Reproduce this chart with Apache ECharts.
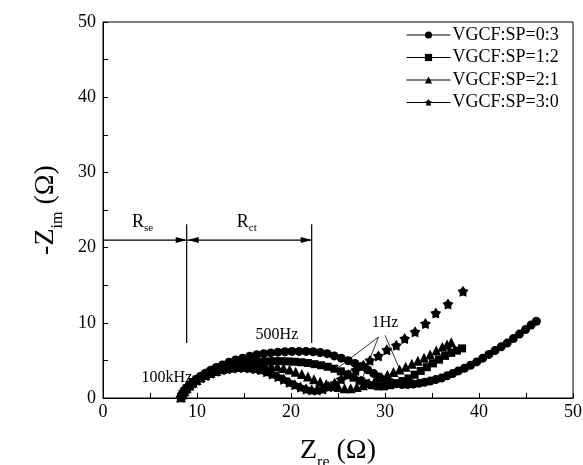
<!DOCTYPE html>
<html>
<head>
<meta charset="utf-8">
<script src="https://cdn.jsdelivr.net/npm/echarts@6/dist/echarts.min.js"></script>
<style>html,body{margin:0;padding:0;background:#fff}#c{width:583px;height:465px}</style>
</head>
<body>
<div id="c"></div>
<script>
// ---- data ----
const seriesNames = ['VGCF:SP=0:3', 'VGCF:SP=1:2', 'VGCF:SP=2:1', 'VGCF:SP=3:0'];
const xTicks = [0, 10, 20, 30, 40, 50];
const yTicks = [0, 10, 20, 30, 40, 50];

const zre03 = [8.3, 8.45, 8.65, 8.9, 9.2, 9.55, 9.95, 10.4, 10.9, 11.45, 12.05, 12.7, 13.4, 14.1, 14.85, 15.6, 16.35, 17.1, 17.85, 18.6, 19.35, 20.1, 20.85, 21.6, 22.35, 23.1, 23.85, 24.6, 25.35, 26.1, 26.8, 27.5, 28.15, 28.8, 29.4, 30.0, 30.6, 31.2, 31.8, 32.4, 33.0, 33.6, 34.2, 34.8, 35.4, 36.0, 36.6, 37.2, 37.8, 38.45, 39.1, 39.75, 40.4, 41.05, 41.7, 42.35, 43.0, 43.65, 44.3, 44.95, 45.55, 46.1];
const zim03 = [0.1, 0.5, 0.9, 1.3, 1.7, 2.1, 2.5, 2.9, 3.3, 3.7, 4.05, 4.4, 4.75, 5.05, 5.3, 5.55, 5.75, 5.9, 6.0, 6.1, 6.15, 6.2, 6.2, 6.2, 6.15, 6.05, 5.9, 5.6, 5.3, 4.95, 4.6, 4.2, 3.75, 3.25, 2.8, 2.4, 2.1, 1.9, 1.8, 1.8, 1.85, 1.95, 2.1, 2.25, 2.45, 2.65, 2.95, 3.25, 3.6, 3.95, 4.35, 4.8, 5.3, 5.8, 6.3, 6.8, 7.3, 7.9, 8.5, 9.1, 9.7, 10.2];

const zre12 = [8.3, 8.45, 8.65, 8.9, 9.2, 9.55, 9.95, 10.4, 10.9, 11.45, 12.05, 12.7, 13.4, 14.1, 14.8, 15.5, 16.2, 16.9, 17.6, 18.3, 19.0, 19.7, 20.4, 21.1, 21.8, 22.5, 23.2, 23.9, 24.6, 25.3, 26.0, 26.65, 27.3, 27.95, 28.6, 29.25, 29.9, 30.55, 31.2, 31.85, 32.5, 33.15, 33.8, 34.45, 35.1, 35.75, 36.4, 37.05, 37.65, 38.2];
const zim12 = [0.1, 0.5, 0.9, 1.3, 1.7, 2.1, 2.45, 2.8, 3.15, 3.45, 3.75, 4.0, 4.2, 4.4, 4.55, 4.65, 4.75, 4.82, 4.87, 4.9, 4.9, 4.87, 4.82, 4.75, 4.65, 4.5, 4.35, 4.15, 3.9, 3.55, 3.15, 2.7, 2.3, 1.95, 1.7, 1.55, 1.55, 1.7, 1.95, 2.25, 2.6, 3.1, 3.6, 4.1, 4.6, 5.1, 5.6, 6.0, 6.3, 6.6];

const zre21 = [8.3, 8.45, 8.65, 8.9, 9.2, 9.55, 9.95, 10.4, 10.9, 11.45, 12.05, 12.7, 13.35, 14.0, 14.65, 15.3, 15.95, 16.6, 17.25, 17.9, 18.55, 19.2, 19.85, 20.5, 21.15, 21.8, 22.45, 23.1, 23.75, 24.4, 25.05, 25.7, 26.35, 27.0, 27.65, 28.3, 28.95, 29.6, 30.25, 30.9, 31.55, 32.2, 32.85, 33.5, 34.15, 34.8, 35.45, 36.1, 36.6, 37.05];
const zim21 = [0.1, 0.5, 0.9, 1.3, 1.7, 2.05, 2.4, 2.75, 3.05, 3.35, 3.6, 3.85, 4.05, 4.2, 4.3, 4.38, 4.42, 4.42, 4.38, 4.3, 4.18, 4.0, 3.8, 3.5, 3.2, 2.85, 2.5, 2.15, 1.85, 1.6, 1.45, 1.3, 1.3, 1.45, 1.7, 2.0, 2.35, 2.75, 3.1, 3.45, 3.8, 4.15, 4.55, 4.95, 5.35, 5.8, 6.3, 6.8, 7.1, 7.4];

const zre30 = [8.3, 8.45, 8.65, 8.9, 9.2, 9.55, 9.95, 10.4, 10.9, 11.45, 12.0, 12.6, 13.2, 13.8, 14.4, 15.0, 15.6, 16.2, 16.8, 17.4, 18.0, 18.6, 19.2, 19.8, 20.4, 21.0, 21.6, 22.2, 22.8, 23.4, 24.0, 24.65, 25.35, 26.1, 26.9, 27.7, 28.4, 29.3, 30.2, 31.2, 32.1, 33.2, 34.3, 35.4, 36.7, 38.3];
const zim30 = [0.1, 0.5, 0.9, 1.3, 1.65, 2.0, 2.35, 2.7, 3.0, 3.3, 3.55, 3.75, 3.9, 4.0, 4.05, 4.05, 4.0, 3.9, 3.75, 3.5, 3.2, 2.85, 2.5, 2.1, 1.75, 1.45, 1.2, 1.05, 1.05, 1.2, 1.5, 1.95, 2.5, 3.1, 3.7, 4.35, 5.0, 5.6, 6.4, 7.0, 7.9, 8.8, 9.9, 11.3, 12.5, 14.2];

// annotations (data coordinates)
const rseX = 8.9, rctX = 22.2, arrowY = 21.0, vLineBottom = 7.3, vLineTop = 23.1;
const freqLabels = [
  { text: '100kHz', x: 6.8, y: 2.65 },
  { text: '500Hz', x: 18.5, y: 8.35 },
  { text: '1Hz', x: 30.0, y: 9.95 }
];
const oneHzLines = [
  { from: [29.3, 8.1], to: [24.4, 3.45], arrow: false },
  { from: [29.3, 8.1], to: [27.3, 1.7], arrow: true },
  { from: [30.0, 8.35], to: [31.6, 3.7], arrow: false }
];

const starPath = 'path://M50,0L67.6,25.7L97.6,34.5L78.5,59.3L79.4,90.5L50,80L20.6,90.5L21.5,59.3L2.4,34.5L32.4,25.7Z';
const symbols = ['circle', 'rect', 'triangle', starPath];
const symbolSizes = [9, 8, 10, 11];
const zs = [6, 5, 4, 3];
const xs = [zre03, zre12, zre21, zre30];
const ys = [zim03, zim12, zim21, zim30];

const FONT = '"Liberation Serif", "Times New Roman", serif';

const chart = echarts.init(document.getElementById('c'), null, { renderer: 'canvas' });

const series = seriesNames.map((name, i) => ({
  name: name,
  type: 'line',
  data: xs[i].map((x, k) => [x, ys[i][k]]),
  symbol: symbols[i],
  symbolSize: symbolSizes[i],
  showAllSymbol: true,
  lineStyle: { opacity: 0, width: 0 },
  itemStyle: { color: '#000' },
  z: zs[i],
  animation: false,
  emphasis: { disabled: true }
}));

chart.setOption({
  animation: false,
  backgroundColor: '#fff',
  grid: { left: 103, right: 10, top: 22, bottom: 67, show: true, borderColor: '#000', borderWidth: 1,
          containLabel: false, outerBoundsMode: 'none' },
  legend: {
    orient: 'vertical',
    left: 401,
    top: 21,
    itemWidth: 44,
    itemHeight: 9,
    itemGap: 4.5,
    data: seriesNames,
    textStyle: { fontFamily: FONT, fontSize: 18, color: '#000', lineHeight: 17, padding: [0, 0, 0, -3] },
    lineStyle: { color: '#000', width: 1, opacity: 1 },
    selectedMode: false
  },
  xAxis: {
    type: 'value', min: 0, max: 50, interval: 10,
    name: '{m|Z}{s|re}{m| (Ω)}',
    nameLocation: 'middle', nameGap: 33,
    nameTextStyle: {
      rich: {
        m: { fontFamily: FONT, fontSize: 28, color: '#000' },
        s: { fontFamily: FONT, fontSize: 16, color: '#000', padding: [24, 0, 0, 0] }
      }
    },
    axisLine: { show: true, lineStyle: { color: '#000', width: 1 } },
    axisTick: { show: true, inside: true, length: 5, lineStyle: { color: '#000' } },
    minorTick: { show: true, splitNumber: 2, length: 5, lineStyle: { color: '#000' } },
    axisLabel: { fontFamily: FONT, fontSize: 18, color: '#000', margin: 5,
      formatter: v => xTicks.includes(v) ? String(v) : '' },
    splitLine: { show: false }
  },
  yAxis: {
    type: 'value', min: 0, max: 50, interval: 10,
    name: '{m|-Z}{s|im}{m| (Ω)}',
    nameLocation: 'middle', nameGap: 37, nameRotate: 90,
    nameTextStyle: {
      rich: {
        m: { fontFamily: FONT, fontSize: 28, color: '#000' },
        s: { fontFamily: FONT, fontSize: 16, color: '#000', padding: [24, 0, 0, 0] }
      }
    },
    axisLine: { show: true, lineStyle: { color: '#000', width: 1 } },
    axisTick: { show: true, inside: true, length: 5, lineStyle: { color: '#000' } },
    minorTick: { show: true, splitNumber: 2, length: 5, lineStyle: { color: '#000' } },
    axisLabel: { fontFamily: FONT, fontSize: 18, color: '#000', margin: 7,
      formatter: v => yTicks.includes(v) ? String(v) : '' },
    splitLine: { show: false }
  },
  series: series
});

// ---- annotations, positioned through the grid's coordinate system ----
const P = (x, y) => chart.convertToPixel({ gridIndex: 0 }, [x, y]);
const g = [];
const stroke = { stroke: '#000', lineWidth: 1.2 };
function line(a, b) { g.push({ type: 'line', shape: { x1: a[0], y1: a[1], x2: b[0], y2: b[1] }, style: stroke, z: 20 }); }
function head(tip, from, len, half) {
  const dx = tip[0] - from[0], dy = tip[1] - from[1];
  const d = Math.hypot(dx, dy); const ux = dx / d, uy = dy / d;
  const bx = tip[0] - ux * len, by = tip[1] - uy * len;
  g.push({ type: 'polygon', shape: { points: [tip, [bx - uy * half, by + ux * half], [bx + uy * half, by - ux * half]] }, style: { fill: '#000' }, z: 20 });
}
line(P(rseX, vLineBottom), P(rseX, vLineTop));
line(P(rctX, vLineBottom), P(rctX, vLineTop));
const a0 = P(0, arrowY), a1 = P(rseX, arrowY), a2 = P(rctX, arrowY);
line(a0, a1); head(a1, a0, 11, 3);
line([a1[0], a1[1]], a2); head([a1[0] + 1, a1[1]], a2, 11, 3); head(a2, a1, 11, 3);
function rtext(x, y, str, rich) {
  const p = P(x, y);
  g.push({ type: 'text', x: p[0], y: p[1], z: 21, style: { text: str, fill: '#000', font: '16px ' + FONT, align: 'center', verticalAlign: 'middle', rich: rich } });
}
const rRich = { r: { fontFamily: FONT, fontSize: 18, fill: '#000' }, s: { fontFamily: FONT, fontSize: 11, fill: '#000', padding: [12, 0, 0, 0] } };
rtext(4.2, 23.4, '{r|R}{s|se}', rRich);
rtext(15.3, 23.4, '{r|R}{s|ct}', rRich);
freqLabels.forEach(f => rtext(f.x, f.y, '{t|' + f.text + '}', { t: { fontFamily: FONT, fontSize: 16, fill: '#000' } }));
oneHzLines.forEach(l => {
  const a = P(l.from[0], l.from[1]), b = P(l.to[0], l.to[1]);
  g.push({ type: 'line', shape: { x1: a[0], y1: a[1], x2: b[0], y2: b[1] }, style: { stroke: '#000', lineWidth: 0.8 }, z: 20 });
  if (l.arrow) head(b, a, 9, 3);
});
chart.setOption({ graphic: g });
</script>
</body>
</html>
